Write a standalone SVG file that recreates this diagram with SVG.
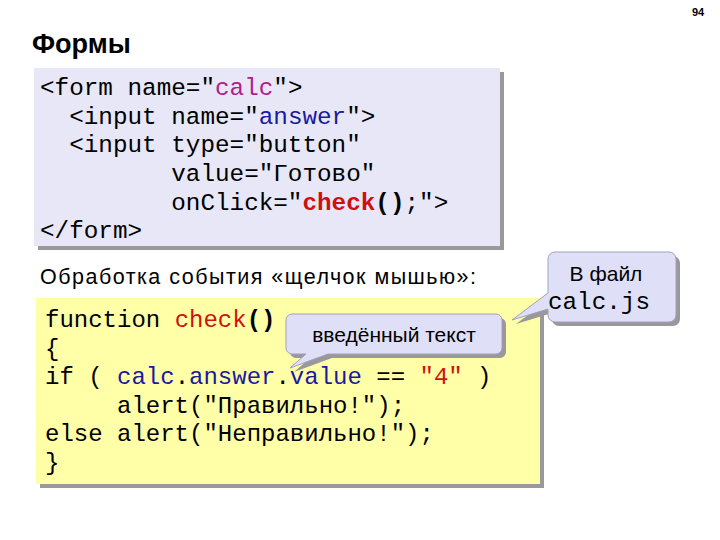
<svg xmlns="http://www.w3.org/2000/svg" width="720" height="540" viewBox="0 0 720 540">
<style>
.m{font-family:"Liberation Mono","Courier New",monospace;font-size:24.3px;fill:#000}
.j{font-size:24px}
.s{font-family:"Liberation Sans",Arial,sans-serif;fill:#000}
.b{font-weight:bold}
.cl{fill:#dfe0f8;stroke:#a0a0c0;stroke-width:1}
</style>
<rect width="720" height="540" fill="#fff"/>
<text class="s b" x="692" y="16" font-size="11">94</text>
<text class="s b" x="32" y="53" font-size="27">Формы</text>
<g id="form-code">
<rect x="38" y="72" width="466" height="178" fill="#999"/>
<rect x="34" y="68" width="466" height="178" fill="#e7e7f8"/>
<text class="m" x="40" y="95" xml:space="preserve">&lt;form name="<tspan fill="#b0208c">calc</tspan>"&gt;</text>
<text class="m" x="40" y="124" xml:space="preserve">  &lt;input name="<tspan fill="#1a1aa0">answer</tspan>"&gt;</text>
<text class="m" x="40" y="152" xml:space="preserve">  &lt;input type="button"</text>
<text class="m" x="40" y="181" xml:space="preserve">         value="Готово"</text>
<text class="m" x="40" y="210" xml:space="preserve">         onClick="<tspan fill="#d01010" class="b">check</tspan><tspan class="b">()</tspan>;"&gt;</text>
<text class="m" x="40" y="238" xml:space="preserve">&lt;/form&gt;</text>
</g>
<text id="caption" class="s" x="40" y="284" font-size="21.5" textLength="436" lengthAdjust="spacing">Обработка события «щелчок мышью»:</text>
<g id="js-code">
<rect x="40" y="302" width="504" height="186" fill="#999"/>
<rect x="36" y="298" width="504" height="186" fill="#ffffa8"/>
<text class="m j" x="45" y="327" xml:space="preserve">function <tspan fill="#d01010">check</tspan><tspan class="b">()</tspan></text>
<text class="m j" x="45" y="356">{</text>
<text class="m j" x="45" y="384" xml:space="preserve">if ( <tspan fill="#1a1aa0">calc</tspan>.<tspan fill="#1a1aa0">answer</tspan>.<tspan fill="#1a1aa0">value</tspan> == <tspan fill="#d01010">"4"</tspan> )</text>
<text class="m j" x="45" y="413" xml:space="preserve">     alert("Правильно!");</text>
<text class="m j" x="45" y="441" xml:space="preserve">else alert("Неправильно!");</text>
<text class="m j" x="45" y="470">}</text>
</g>
<g id="callout-text">
<path d="M296,318 h204 a6,6 0 0 1 6,6 v28 a6,6 0 0 1 -6,6 h-168 l-38,14 l16,-14 h-14 a6,6 0 0 1 -6,-6 v-28 a6,6 0 0 1 6,-6z" fill="#999"/>
<path d="M292,314 h204 a6,6 0 0 1 6,6 v28 a6,6 0 0 1 -6,6 h-168 l-38,14 l16,-14 h-14 a6,6 0 0 1 -6,-6 v-28 a6,6 0 0 1 6,-6z" class="cl"/>
<text class="s" x="394" y="342" font-size="21" text-anchor="middle">введённый текст</text>
</g>
<g id="callout-file">
<path d="M559,256 h114 a7,7 0 0 1 7,7 v56 a7,7 0 0 1 -7,7 h-114 a7,7 0 0 1 -7,-7 v-6 l-36,11 l36,-27 v-34 a7,7 0 0 1 7,-7z" fill="#999"/>
<path d="M555,252 h114 a7,7 0 0 1 7,7 v56 a7,7 0 0 1 -7,7 h-114 a7,7 0 0 1 -7,-7 v-6 l-36,11 l36,-27 v-34 a7,7 0 0 1 7,-7z" class="cl"/>
<text class="s" x="606" y="281" font-size="21" text-anchor="middle">В файл</text>
<text class="m" x="599" y="309" font-size="21" text-anchor="middle">calc.js</text>
</g>
</svg>
